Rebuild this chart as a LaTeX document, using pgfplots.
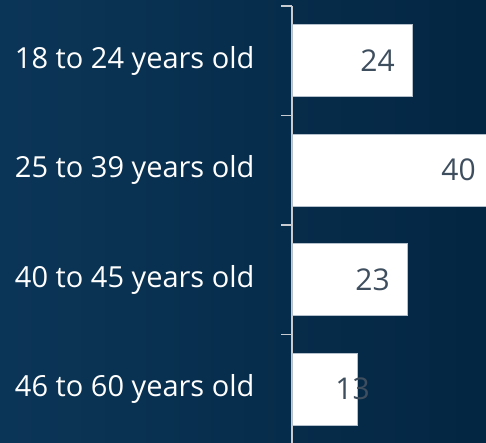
\documentclass[border=0pt]{standalone}
\usepackage{pgfplots}
\pgfplotsset{compat=1.18}
\usepackage{fontspec}
\setmainfont{Open Sans}
\definecolor{bgL}{RGB}{11,53,87}
\definecolor{bgR}{RGB}{3,38,66}
\definecolor{valtxt}{RGB}{62,78,94}
\definecolor{axgray}{RGB}{200,204,208}
\definecolor{barEdge}{RGB}{180,192,204}
\pgfplotstableread{
x y sh
24 0 -17
40 1 -16
23 2 -17
13 3 13
}\agedata
\begin{document}
\begin{tikzpicture}
\useasboundingbox (0pt,0pt) rectangle (486pt,442pt);
\clip (0pt,0pt) rectangle (486pt,442pt);
\shade[left color=bgL, right color=bgR] (0pt,0pt) rectangle (486pt,442pt);
\begin{axis}[
 at={(292pt,-2pt)}, anchor=south west,
 scale only axis, width=200pt, height=438pt,
 xmin=0, xmax=40, ymin=-0.5, ymax=3.5, y dir=reverse,
 hide x axis, axis y line*=left,
 axis line style={axgray, line width=1.5pt},
 /pgf/number format/assume math mode=true,
 ytick={0,1,2,3},
 yticklabels={18 to 24 years old, 25 to 39 years old, 40 to 45 years old, 46 to 60 years old},
 tick align=outside,
 major tick length=0pt,
 extra y ticks={-0.5,0.5,1.5,2.5,3.5},
 extra y tick labels={},
 extra y tick style={major tick length=11pt, tick style={draw=axgray, line width=1.5pt}},
 yticklabel style={font=\fontsize{29}{32}\selectfont, text=white, anchor=east, xshift=-34pt},
 xbar, bar width=72pt, bar shift=0pt,
 clip=false,
]
\addplot[fill=white, draw=barEdge, line width=0.6pt,
  visualization depends on={\thisrow{sh}\as\myshift},
  nodes near coords, point meta=x,
  every node near coord/.append style={anchor=east, xshift=\myshift pt, inner sep=0pt,
     text=valtxt, font=\fontsize{30}{32}\selectfont}]
  table[x=x,y=y]{\agedata};
\end{axis}
\end{tikzpicture}
\end{document}
